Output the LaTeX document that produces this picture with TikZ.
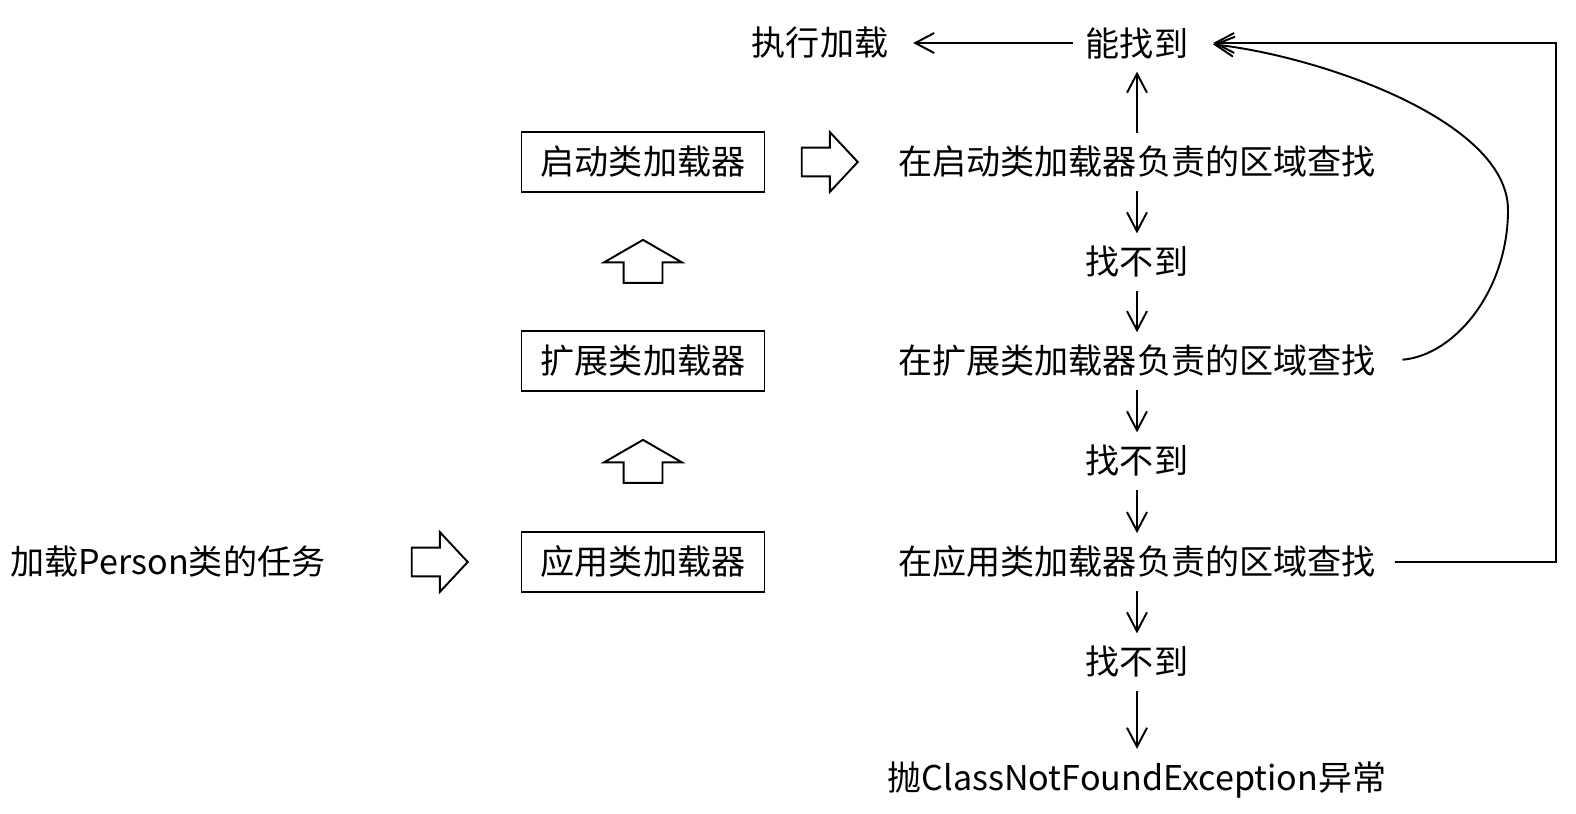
\documentclass[tikz,border=0pt]{standalone}
\usepackage{fontspec}
\setmainfont{Noto Sans CJK SC}
\usetikzlibrary{arrows.meta,shapes.arrows}

\begin{document}
\begin{tikzpicture}[x=0.02cm, y=-0.02cm, line width=1.1pt, >={Straight Barb[length=0.38cm,width=0.4cm]},
txt/.style={inner sep=0.24cm, font=\fontsize{19.4}{23}\selectfont},
loader/.style={txt, draw, inner sep=0, minimum width=4.86cm, minimum height=1.2cm},
fatright/.style={single arrow, draw, inner sep=0.27cm, minimum height=1.12cm, single arrow head extend=0.31cm, single arrow tip angle=94},
fatup/.style={single arrow, draw, inner xsep=0.37cm, inner ysep=0.1cm, shape border rotate=90, minimum height=0.86cm, single arrow head extend=0.39cm, single arrow tip angle=120}]
\useasboundingbox (0,0) rectangle (1576,814);
% left part
\node [txt] (task) at (168,562) {加载Person类的任务};
\node [fatright] (go) at (433,562) {};
\node [loader] (app) at (643,562) {应用类加载器};
\node [fatup] (up1) at (643,467) {};
\node [loader] (ext) at (643,361) {扩展类加载器};
\node [fatup] (up2) at (643,267) {};
\node [loader] (boot) at (643,162) {启动类加载器};
\node [fatright] (look) at (823,162) {};
% right column
\node [txt] (exec) at (820,43) {执行加载};
\node [txt] (found) at (1137,43) {能找到};
\node [txt] (s1) at (1137,162) {在启动类加载器负责的区域查找};
\node [txt] (nf1) at (1137,262) {找不到};
\node [txt] (s2) at (1137,361) {在扩展类加载器负责的区域查找};
\node [txt] (nf2) at (1137,461) {找不到};
\node [txt] (s3) at (1137,562) {在应用类加载器负责的区域查找};
\node [txt] (nf3) at (1137,662) {找不到};
\node [txt] (throw) at (1137,780) {抛ClassNotFoundException异常};
\coordinate (bend) at (1508,210);
\coordinate (corner) at (1556,562);
% connectors
\draw[->, shorten >=0.24cm] (found) -- (exec);
\draw[->] (s1) -- (found);
\draw[->] (s1) -- (nf1);
\draw[->] (nf1) -- (s2);
\draw[->] (s2) -- (nf2);
\draw[->] (nf2) -- (s3);
\draw[->] (s3) -- (nf3);
\draw[->] (nf3) -- (throw);
\draw[->, shorten <=0.28cm, shorten >=0.24cm] (s2.east) .. controls +(67,-6) and +(0,80) .. (bend) .. controls +(0,-90) and +(117,13) .. (found.east);
\draw[->, shorten <=0.12cm, shorten >=0.24cm] (s3.east) -- (corner) |- (found.east);
\end{tikzpicture}
\end{document}
